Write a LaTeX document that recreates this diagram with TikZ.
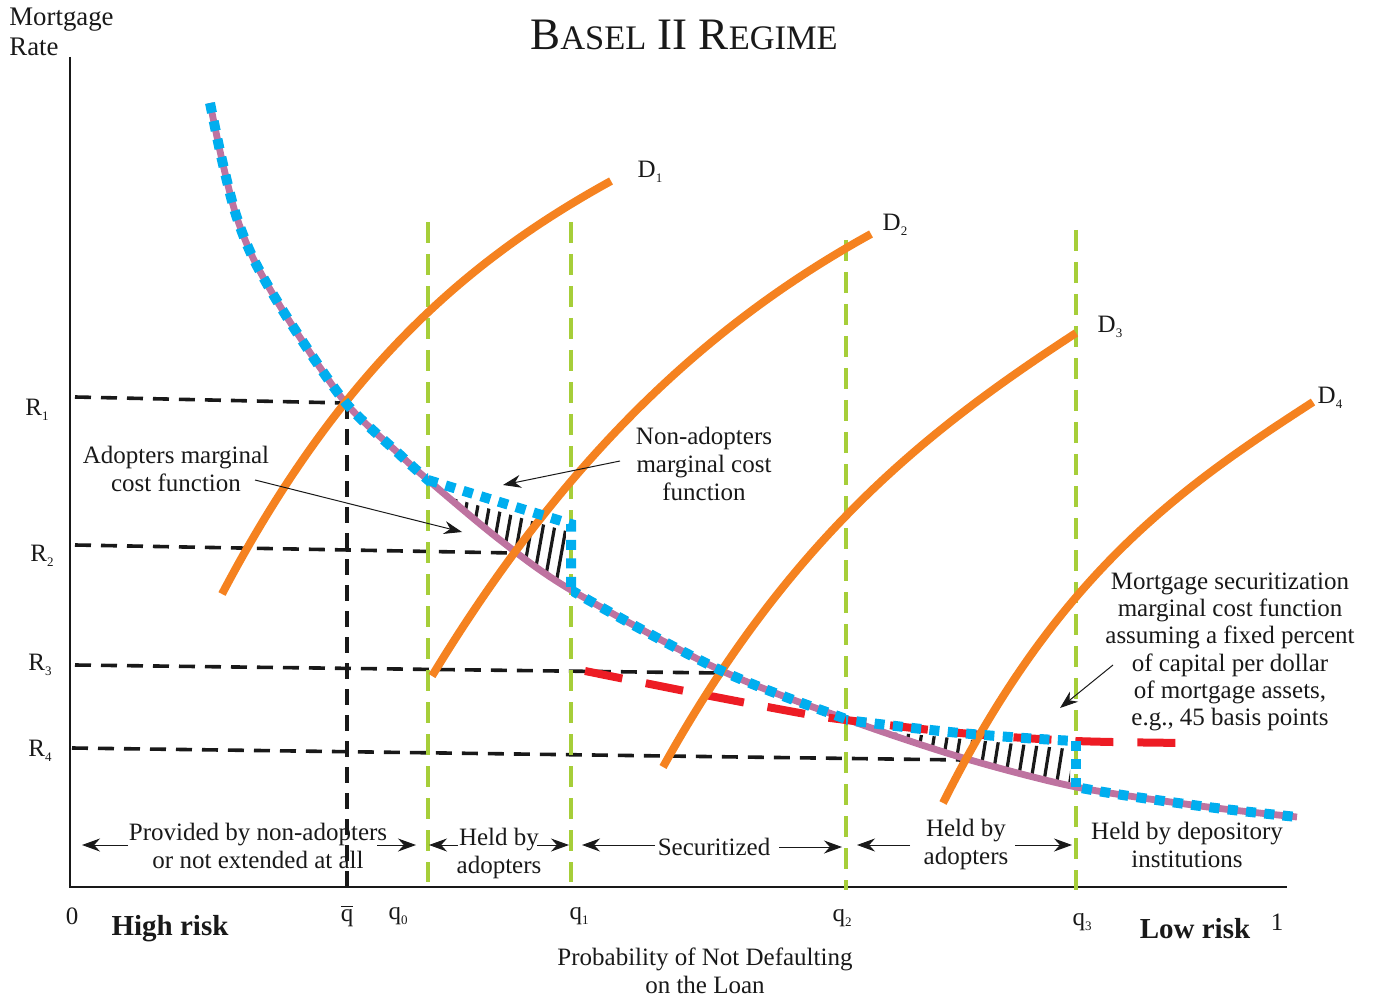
\documentclass[tikz,border=0pt]{standalone}
\usepackage{fontspec}
\setmainfont{Liberation Serif}
\usetikzlibrary{arrows.meta}
\definecolor{mcpurple}{RGB}{190,115,160}
\definecolor{dorange}{RGB}{245,130,32}
\definecolor{gline}{RGB}{166,206,57}
\definecolor{bdot}{RGB}{0,174,239}
\definecolor{rdash}{RGB}{237,28,36}
\newcommand\sbs[1]{\raisebox{-0.45ex}{\fontsize{6.5}{6.5}\selectfont #1}}
\newcommand\tsc[2]{{\fontsize{22.5}{22.5}\selectfont #1}{\fontsize{17.2}{17.2}\selectfont #2}}
\def\mcpath{plot[smooth] coordinates {(210,103) (222,160) (236,215) (255,262) (290,322) (345,402) (397,452) (428,480) (500,540) (571,590) (720,670) (846,719) (960,757) (1076,787) (1200,806) (1297,817)}}
\def\secpath{plot[smooth] coordinates {(585,671) (700,694) (800,713) (846,720) (960,733) (1076,741) (1190,743)}}
\begin{document}
\begin{tikzpicture}[x=0.5pt,y=-0.5pt,
  lbl/.style={font=\fontsize{12.5}{14}\selectfont, align=center, inner sep=0pt, text=black!90},
  bold/.style={font=\fontsize{14.5}{16}\selectfont\bfseries, inner sep=0pt, text=black!90},
  rdashln/.style={line width=1.8pt, dash pattern=on 8pt off 5pt, black!90},
  gdashln/.style={line width=2pt, dash pattern=on 10.5pt off 5.5pt, gline},
  mcline/.style={line width=3.4pt, mcpurple},
  demand/.style={line width=4pt, dorange},
  secline/.style={line width=4pt, rdash, dash pattern=on 19pt off 12pt},
  bluedot/.style={line width=5pt, bdot, dash pattern=on 5pt off 4.2pt},
  hatchln/.style={line width=1.6pt, black!90},
  axisln/.style={line width=0.8pt, black!90},
  annot/.style={line width=0.5pt, black!90, -{Stealth[length=9pt,width=6.5pt]}},
]
\useasboundingbox (0,0) rectangle (1374,999);

% axes
\coordinate (ytop) at (70,57);
\coordinate (orig) at (70,887);
\coordinate (xend) at (1287,887);
\draw[axisln] (ytop) -- (orig) -- (xend);

% texts
\node[lbl, font=\fontsize{13.4}{14.6}\selectfont, align=left, anchor=north west] (ylab) at (9,8) {Mortgage\\Rate};
\node[inner sep=0pt, text=black!90, font=\fontsize{22.5}{22.5}\selectfont] (title) at (684,35) {\tsc{B}{ASEL} \tsc{II}{} \tsc{R}{EGIME}};

% R levels
\coordinate (r1a) at (75,397);  \coordinate (r1b) at (345,403);
\coordinate (r2a) at (75,545);  \coordinate (r2b) at (513,553);
\coordinate (r3a) at (75,665);  \coordinate (r3b) at (720,673);
\coordinate (r4a) at (72,748);  \coordinate (r4b) at (963,760);
\coordinate (qba) at (347,403); \coordinate (qbb) at (347,887);
\draw[rdashln] (r1a) -- (r1b);
\draw[rdashln] (r2a) -- (r2b);
\draw[rdashln] (r3a) -- (r3b);
\draw[rdashln] (r4a) -- (r4b);
\draw[rdashln] (qba) -- (qbb);

\node[lbl] (R1) at (37,410) {R\sbs{1}};
\node[lbl] (R2) at (42,556) {R\sbs{2}};
\node[lbl] (R3) at (40,665) {R\sbs{3}};
\node[lbl] (R4) at (40,751) {R\sbs{4}};

% green verticals
\coordinate (g0a) at (428,222);  \coordinate (g0b) at (428,882);
\coordinate (g1a) at (571,222);  \coordinate (g1b) at (571,882);
\coordinate (g2a) at (846,240);  \coordinate (g2b) at (846,890);
\coordinate (g3a) at (1076,230); \coordinate (g3b) at (1076,890);
\draw[gdashln] (g0a) -- (g0b);
\draw[gdashln] (g1a) -- (g1b);
\draw[gdashln] (g2a) -- (g2b);
\draw[gdashln] (g3a) -- (g3b);

% hatching
\begin{scope}
  \clip \mcpath -- (1374,0) -- (0,0) -- cycle;
  \begin{scope}
    \clip (432,492) -- (566,531) -- (566,700) -- (432,700) -- cycle;
    \foreach \x in {400,411.5,...,600} \draw[hatchln] (\x,620) -- ++(25,-140);
  \end{scope}
  \begin{scope}
    \clip (846,728) -- (1070,749) -- (1070,820) -- (846,820) -- cycle;
    \foreach \x in {820,833,...,1100} \draw[hatchln] (\x,800) -- ++(16,-100);
  \end{scope}
\end{scope}

% marginal cost curve
\draw[mcline] \mcpath;
% securitization cost
\draw[secline] \secpath;

% demand curves
\coordinate (d1s) at (222,594);  \coordinate (d1e) at (611,181);
\coordinate (d2s) at (432,676);  \coordinate (d2e) at (871,234);
\coordinate (d3s) at (663,767);  \coordinate (d3e) at (1076,333);
\coordinate (d4s) at (943,803);  \coordinate (d4e) at (1313,402);
\draw[demand] (d1s) .. controls (342,366) and (471,258) .. (d1e);
\draw[demand] (d2s) .. controls (568,452) and (713,321) .. (d2e);
\draw[demand] (d3s) .. controls (791,537) and (927,430) .. (d3e);
\draw[demand] (d4s) .. controls (1058,573) and (1180,488) .. (d4e);
\node[lbl] (D1) at (650,172) {D\sbs{1}};
\node[lbl] (D2) at (895,225) {D\sbs{2}};
\node[lbl] (D3) at (1110,327) {D\sbs{3}};
\node[lbl] (D4) at (1330,398) {D\sbs{4}};

% blue dotted effective cost
\begin{scope}
  \clip (0,0) rectangle (428,999) (571,0) rectangle (846,999) (1076,0) rectangle (1374,999);
  \draw[bluedot] \mcpath;
\end{scope}
\begin{scope}
  \clip (846,0) rectangle (1076,999);
  \draw[bluedot] \secpath;
\end{scope}
\coordinate (na0) at (428,480);
\coordinate (na1) at (571,524);
\coordinate (na2) at (571,590);
\coordinate (sc1) at (1076,741);
\coordinate (sc2) at (1076,787);
\draw[bluedot] (na0) -- (na1) -- (na2);
\draw[bluedot] (sc1) -- (sc2);

% annotations
\node[lbl] (adopt) at (176,469) {Adopters marginal\\cost function};
\coordinate (adA) at (255,480); \coordinate (adB) at (462,532);
\draw[annot] (adA) -- (adB);
\node[lbl] (nonad) at (704,464) {Non-adopters\\marginal cost\\function};
\coordinate (naA) at (620,461); \coordinate (naB) at (503,485);
\draw[annot] (naA) -- (naB);
\node[lbl, font=\fontsize{12.5}{13.6}\selectfont] (secur) at (1230,652) {Mortgage securitization\\marginal cost function\\assuming a fixed percent\\of capital per dollar\\of mortgage assets,\\e.g., 45 basis points};
\coordinate (seA) at (1113,665); \coordinate (seB) at (1060,708);
\draw[annot] (seA) -- (seB);

% bottom region labels
\node[lbl] (prov) at (258,846) {Provided by non-adopters\\or not extended at all};
\coordinate (pvA) at (128,845); \coordinate (pvB) at (82,845);
\coordinate (pvC) at (377,845); \coordinate (pvD) at (416,845);
\draw[annot] (pvA) -- (pvB);
\draw[annot] (pvC) -- (pvD);
\node[lbl] (held1) at (499,853) {Held by\\adopters};
\coordinate (h1A) at (458,845); \coordinate (h1B) at (429,845);
\coordinate (h1C) at (537,845); \coordinate (h1D) at (569,845);
\draw[annot] (h1A) -- (h1B);
\draw[annot] (h1C) -- (h1D);
\node[lbl] (secz) at (714,847) {Securitized};
\coordinate (szA) at (655,845); \coordinate (szB) at (582,845);
\coordinate (szC) at (779,847); \coordinate (szD) at (842,847);
\draw[annot] (szA) -- (szB);
\draw[annot] (szC) -- (szD);
\node[lbl] (held2) at (966,844) {Held by\\adopters};
\coordinate (h2A) at (910,845); \coordinate (h2B) at (857,845);
\coordinate (h2C) at (1015,845); \coordinate (h2D) at (1072,845);
\draw[annot] (h2A) -- (h2B);
\draw[annot] (h2C) -- (h2D);
\node[lbl] (dep) at (1187,845) {Held by depository\\institutions};

% axis tick labels
\node[lbl] (zero) at (72,916) {0};
\node[bold] (hr) at (170,929) {High risk};
\node[lbl] (qbar) at (347,916) {$\overline{\mbox{q}}$};
\node[lbl] (q0) at (398,916) {q\sbs{0}};
\node[lbl] (q1) at (579,916) {q\sbs{1}};
\node[lbl] (q2) at (842,918) {q\sbs{2}};
\node[lbl] (q3) at (1082,922) {q\sbs{3}};
\node[bold] (lr) at (1195,929) {Low risk};
\node[lbl] (one) at (1277,922) {1};
\node[lbl] (xlab) at (705,971) {Probability of Not Defaulting\\on the Loan};
\end{tikzpicture}
\end{document}
